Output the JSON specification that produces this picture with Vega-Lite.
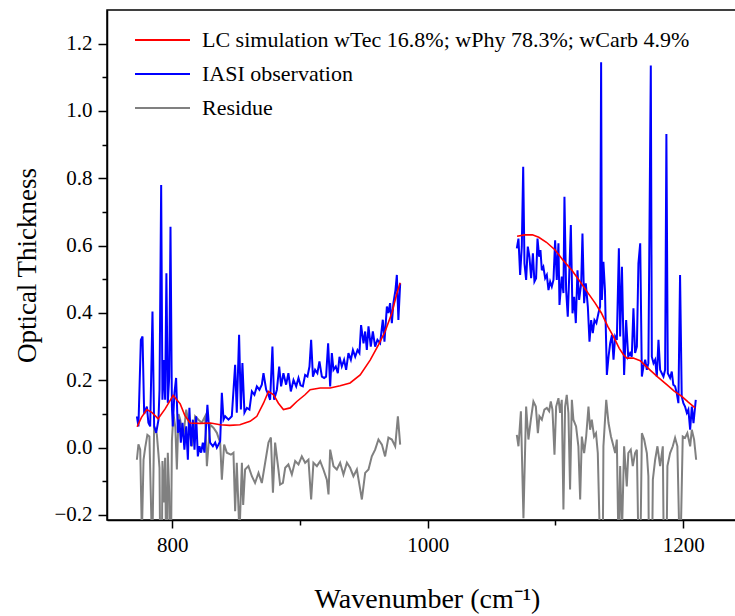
{
  "$schema": "https://vega.github.io/schema/vega-lite/v6.json",
  "width": 640,
  "height": 510,
  "autosize": {"type": "none"},
  "padding": {"left": 107, "top": 10, "right": 0, "bottom": 96},
  "background": "white",
  "config": {
    "font": "Liberation Serif",
    "style": {
      "guide-label": {"font": "Liberation Serif", "fill": "black"},
      "guide-title": {"font": "Liberation Serif", "fill": "black"}
    },
    "view": {"stroke": "black", "strokeWidth": 1.5},
    "axis": {
      "domainColor": "black", "domainWidth": 1.5, "tickColor": "black", "tickWidth": 1.5,
      "labelColor": "black", "labelFont": "Liberation Serif", "labelFontSize": 21,
      "titleFont": "Liberation Serif", "titleFontSize": 27, "titleFontWeight": "normal",
      "titleColor": "black", "grid": false
    },
    "legend": {"labelFont": "Liberation Serif", "labelFontSize": 22, "labelColor": "black", "labelLimit": 0}
  },
  "datasets": {
    "obs": [
      {"p":"a","x":772.4,"y":0.093},{"p":"a","x":773.6,"y":0.063},{"p":"a","x":775.5,"y":0.32},{"p":"a","x":776.8,"y":0.33},{"p":"a","x":778.1,"y":0.10},{"p":"a","x":780.2,"y":0.122},{"p":"a","x":781.4,"y":0.074},{"p":"a","x":782.8,"y":0.063},{"p":"a","x":784.6,"y":0.404},{"p":"a","x":785.9,"y":0.063},{"p":"a","x":787.5,"y":0.044},{"p":"a","x":789.3,"y":0.083},{"p":"a","x":790.1,"y":0.17},{"p":"a","x":791.4,"y":0.78},{"p":"a","x":792.4,"y":0.142},{"p":"a","x":793.5,"y":0.26},{"p":"a","x":794.5,"y":0.142},{"p":"a","x":795.5,"y":0.518},{"p":"a","x":796.6,"y":0.133},{"p":"a","x":797.7,"y":0.21},{"p":"a","x":798.7,"y":0.656},{"p":"a","x":799.8,"y":0.122},{"p":"a","x":800.5,"y":0.063},{"p":"a","x":801.8,"y":0.163},{"p":"a","x":803.1,"y":0.207},{"p":"a","x":804.5,"y":0.044},{"p":"a","x":805.7,"y":0.083},{"p":"a","x":806.8,"y":0.015},{"p":"a","x":808.1,"y":0.074},{"p":"a","x":809.6,"y":-0.006},{"p":"a","x":811.0,"y":0.063},{"p":"a","x":812.3,"y":-0.036},{"p":"a","x":813.5,"y":0.118},{"p":"a","x":814.9,"y":0.004},{"p":"a","x":816.2,"y":0.083},{"p":"a","x":817.5,"y":-0.006},{"p":"a","x":818.8,"y":0.093},{"p":"a","x":820.1,"y":-0.026},{"p":"a","x":821.4,"y":0.004},{"p":"a","x":822.7,"y":-0.015},{"p":"a","x":824.0,"y":0.015},{"p":"a","x":825.3,"y":-0.015},{"p":"a","x":827.6,"y":0.127},{"p":"a","x":829.7,"y":0.015},{"p":"a","x":831.9,"y":0.004},{"p":"a","x":833.7,"y":0.015},{"p":"a","x":835.0,"y":0.0},{"p":"a","x":837.6,"y":0.019},{"p":"a","x":838.9,"y":0.163},{"p":"a","x":840.2,"y":0.083},{"p":"a","x":841.5,"y":0.093},{"p":"a","x":844.1,"y":0.083},{"p":"a","x":846.7,"y":0.093},{"p":"a","x":849.3,"y":0.246},{"p":"a","x":850.6,"y":0.104},{"p":"a","x":852.4,"y":0.335},{"p":"a","x":853.8,"y":0.113},{"p":"a","x":855.0,"y":0.251},{"p":"a","x":856.6,"y":0.104},{"p":"a","x":858.5,"y":0.118},{"p":"a","x":860.5,"y":0.113},{"p":"a","x":862.4,"y":0.167},{"p":"a","x":864.4,"y":0.157},{"p":"a","x":866.3,"y":0.182},{"p":"a","x":868.3,"y":0.172},{"p":"a","x":870.2,"y":0.187},{"p":"a","x":871.5,"y":0.221},{"p":"a","x":873.6,"y":0.172},{"p":"a","x":875.4,"y":0.157},{"p":"a","x":876.7,"y":0.142},{"p":"a","x":878.5,"y":0.30},{"p":"a","x":879.8,"y":0.142},{"p":"a","x":882.0,"y":0.172},{"p":"a","x":883.8,"y":0.241},{"p":"a","x":885.3,"y":0.182},{"p":"a","x":887.1,"y":0.221},{"p":"a","x":889.2,"y":0.187},{"p":"a","x":891.0,"y":0.221},{"p":"a","x":892.9,"y":0.167},{"p":"a","x":895.0,"y":0.201},{"p":"a","x":897.1,"y":0.182},{"p":"a","x":898.9,"y":0.207},{"p":"a","x":900.5,"y":0.185},{"p":"a","x":902.3,"y":0.182},{"p":"a","x":904.1,"y":0.216},{"p":"a","x":905.9,"y":0.211},{"p":"a","x":907.5,"y":0.241},{"p":"a","x":908.8,"y":0.32},{"p":"a","x":910.2,"y":0.211},{"p":"a","x":911.9,"y":0.231},{"p":"a","x":913.7,"y":0.221},{"p":"a","x":915.3,"y":0.256},{"p":"a","x":917.2,"y":0.211},{"p":"a","x":919.0,"y":0.207},{"p":"a","x":920.5,"y":0.211},{"p":"a","x":922.1,"y":0.31},{"p":"a","x":923.7,"y":0.182},{"p":"a","x":925.0,"y":0.281},{"p":"a","x":926.3,"y":0.231},{"p":"a","x":928.1,"y":0.241},{"p":"a","x":929.7,"y":0.221},{"p":"a","x":931.0,"y":0.27},{"p":"a","x":932.8,"y":0.241},{"p":"a","x":934.6,"y":0.261},{"p":"a","x":936.2,"y":0.231},{"p":"a","x":938.0,"y":0.281},{"p":"a","x":939.9,"y":0.261},{"p":"a","x":941.5,"y":0.29},{"p":"a","x":943.3,"y":0.27},{"p":"a","x":945.1,"y":0.29},{"p":"a","x":946.6,"y":0.281},{"p":"a","x":947.9,"y":0.364},{"p":"a","x":949.8,"y":0.31},{"p":"a","x":951.1,"y":0.345},{"p":"a","x":952.4,"y":0.29},{"p":"a","x":953.7,"y":0.36},{"p":"a","x":955.5,"y":0.30},{"p":"a","x":957.1,"y":0.345},{"p":"a","x":958.9,"y":0.30},{"p":"a","x":960.7,"y":0.32},{"p":"a","x":962.8,"y":0.31},{"p":"a","x":964.9,"y":0.38},{"p":"a","x":966.2,"y":0.315},{"p":"a","x":968.1,"y":0.419},{"p":"a","x":969.3,"y":0.40},{"p":"a","x":970.6,"y":0.429},{"p":"a","x":972.0,"y":0.37},{"p":"a","x":973.2,"y":0.429},{"p":"a","x":974.8,"y":0.468},{"p":"a","x":975.9,"y":0.513},{"p":"a","x":977.1,"y":0.379},{"p":"a","x":978.5,"y":0.488},
      {"p":"b","x":1069.8,"y":0.592},{"p":"b","x":1071.1,"y":0.621},{"p":"b","x":1072.4,"y":0.513},{"p":"b","x":1073.7,"y":0.597},{"p":"b","x":1074.8,"y":0.834},{"p":"b","x":1075.8,"y":0.547},{"p":"b","x":1077.1,"y":0.498},{"p":"b","x":1078.4,"y":0.597},{"p":"b","x":1079.7,"y":0.567},{"p":"b","x":1081.0,"y":0.503},{"p":"b","x":1082.4,"y":0.577},{"p":"b","x":1083.6,"y":0.493},{"p":"b","x":1084.9,"y":0.503},{"p":"b","x":1086.0,"y":0.621},{"p":"b","x":1087.3,"y":0.567},{"p":"b","x":1088.3,"y":0.587},{"p":"b","x":1089.4,"y":0.527},{"p":"b","x":1090.6,"y":0.537},{"p":"b","x":1092.0,"y":0.503},{"p":"b","x":1093.3,"y":0.513},{"p":"b","x":1094.6,"y":0.468},{"p":"b","x":1095.9,"y":0.493},{"p":"b","x":1097.2,"y":0.478},{"p":"b","x":1098.5,"y":0.498},{"p":"b","x":1099.8,"y":0.616},{"p":"b","x":1101.1,"y":0.498},{"p":"b","x":1102.4,"y":0.607},{"p":"b","x":1103.2,"y":0.424},{"p":"b","x":1105.0,"y":0.508},{"p":"b","x":1106.3,"y":0.459},{"p":"b","x":1107.1,"y":0.745},{"p":"b","x":1108.4,"y":0.468},{"p":"b","x":1109.7,"y":0.389},{"p":"b","x":1110.8,"y":0.508},{"p":"b","x":1112.1,"y":0.661},{"p":"b","x":1113.4,"y":0.399},{"p":"b","x":1114.7,"y":0.448},{"p":"b","x":1116.0,"y":0.37},{"p":"b","x":1117.3,"y":0.527},{"p":"b","x":1118.6,"y":0.439},{"p":"b","x":1120.2,"y":0.488},{"p":"b","x":1121.2,"y":0.636},{"p":"b","x":1122.5,"y":0.429},{"p":"b","x":1123.8,"y":0.488},{"p":"b","x":1125.4,"y":0.419},{"p":"b","x":1126.7,"y":0.315},{"p":"b","x":1128.0,"y":0.379},{"p":"b","x":1129.3,"y":0.34},{"p":"b","x":1130.6,"y":0.379},{"p":"b","x":1132.1,"y":0.37},{"p":"b","x":1133.7,"y":0.399},{"p":"b","x":1135.0,"y":0.419},{"p":"b","x":1135.8,"y":1.145},{"p":"b","x":1136.4,"y":0.439},{"p":"b","x":1137.6,"y":0.552},{"p":"b","x":1138.8,"y":0.468},{"p":"b","x":1140.3,"y":0.216},{"p":"b","x":1141.6,"y":0.27},{"p":"b","x":1142.9,"y":0.31},{"p":"b","x":1144.3,"y":0.335},{"p":"b","x":1145.5,"y":0.261},{"p":"b","x":1146.8,"y":0.33},{"p":"b","x":1148.1,"y":0.32},{"p":"b","x":1149.7,"y":0.592},{"p":"b","x":1150.7,"y":0.33},{"p":"b","x":1152.1,"y":0.537},{"p":"b","x":1153.8,"y":0.216},{"p":"b","x":1155.4,"y":0.379},{"p":"b","x":1157.0,"y":0.27},{"p":"b","x":1158.5,"y":0.281},{"p":"b","x":1159.8,"y":0.27},{"p":"b","x":1161.1,"y":0.414},{"p":"b","x":1162.4,"y":0.281},{"p":"b","x":1163.8,"y":0.30},{"p":"b","x":1165.0,"y":0.547},{"p":"b","x":1166.4,"y":0.607},{"p":"b","x":1167.7,"y":0.211},{"p":"b","x":1168.9,"y":0.24},{"p":"b","x":1170.3,"y":0.261},{"p":"b","x":1171.6,"y":0.231},{"p":"b","x":1172.8,"y":0.251},{"p":"b","x":1174.7,"y":1.135},{"p":"b","x":1175.5,"y":0.27},{"p":"b","x":1176.8,"y":0.251},{"p":"b","x":1178.1,"y":0.261},{"p":"b","x":1179.4,"y":0.211},{"p":"b","x":1180.7,"y":0.32},{"p":"b","x":1182.0,"y":0.231},{"p":"b","x":1183.3,"y":0.221},{"p":"b","x":1184.6,"y":0.211},{"p":"b","x":1185.9,"y":0.231},{"p":"b","x":1186.9,"y":0.932},{"p":"b","x":1188.0,"y":0.221},{"p":"b","x":1189.8,"y":0.207},{"p":"b","x":1191.1,"y":0.226},{"p":"b","x":1192.3,"y":0.187},{"p":"b","x":1193.7,"y":0.182},{"p":"b","x":1195.0,"y":0.162},{"p":"b","x":1196.3,"y":0.132},{"p":"b","x":1197.6,"y":0.513},{"p":"b","x":1198.9,"y":0.152},{"p":"b","x":1200.2,"y":0.132},{"p":"b","x":1201.5,"y":0.122},{"p":"b","x":1202.9,"y":0.103},{"p":"b","x":1204.1,"y":0.113},{"p":"b","x":1205.5,"y":0.053},{"p":"b","x":1206.8,"y":0.122},{"p":"b","x":1208.1,"y":0.073},{"p":"b","x":1209.9,"y":0.142}
    ],
    "sim": [
      {"p":"a","x":772.6,"y":0.062},{"p":"a","x":776.0,"y":0.09},{"p":"a","x":780.2,"y":0.113},{"p":"a","x":784.0,"y":0.105},{"p":"a","x":789.0,"y":0.086},{"p":"a","x":794.5,"y":0.115},{"p":"a","x":800.8,"y":0.155},{"p":"a","x":806.3,"y":0.13},{"p":"a","x":810.0,"y":0.095},{"p":"a","x":814.1,"y":0.073},{"p":"a","x":822.0,"y":0.072},{"p":"a","x":830.0,"y":0.073},{"p":"a","x":837.6,"y":0.068},{"p":"a","x":845.0,"y":0.066},{"p":"a","x":853.0,"y":0.068},{"p":"a","x":861.0,"y":0.078},{"p":"a","x":866.3,"y":0.093},{"p":"a","x":871.5,"y":0.132},{"p":"a","x":875.4,"y":0.167},{"p":"a","x":879.4,"y":0.157},{"p":"a","x":883.2,"y":0.132},{"p":"a","x":887.1,"y":0.113},{"p":"a","x":892.4,"y":0.118},{"p":"a","x":897.6,"y":0.137},{"p":"a","x":904.0,"y":0.157},{"p":"a","x":908.0,"y":0.172},{"p":"a","x":915.9,"y":0.177},{"p":"a","x":923.7,"y":0.177},{"p":"a","x":931.5,"y":0.184},{"p":"a","x":939.3,"y":0.192},{"p":"a","x":947.2,"y":0.216},{"p":"a","x":955.0,"y":0.26},{"p":"a","x":961.5,"y":0.305},{"p":"a","x":966.7,"y":0.345},{"p":"a","x":972.0,"y":0.40},{"p":"a","x":975.9,"y":0.458},{"p":"a","x":978.5,"y":0.49},
      {"p":"b","x":1070.0,"y":0.628},{"p":"b","x":1076.0,"y":0.632},{"p":"b","x":1082.0,"y":0.632},{"p":"b","x":1087.0,"y":0.625},{"p":"b","x":1093.0,"y":0.61},{"p":"b","x":1099.8,"y":0.587},{"p":"b","x":1106.0,"y":0.557},{"p":"b","x":1112.9,"y":0.527},{"p":"b","x":1119.0,"y":0.495},{"p":"b","x":1125.6,"y":0.459},{"p":"b","x":1131.0,"y":0.43},{"p":"b","x":1136.0,"y":0.40},{"p":"b","x":1141.0,"y":0.36},{"p":"b","x":1145.5,"y":0.33},{"p":"b","x":1150.0,"y":0.295},{"p":"b","x":1153.3,"y":0.276},{"p":"b","x":1156.0,"y":0.266},{"p":"b","x":1161.0,"y":0.266},{"p":"b","x":1166.4,"y":0.258},{"p":"b","x":1170.0,"y":0.245},{"p":"b","x":1174.2,"y":0.23},{"p":"b","x":1180.0,"y":0.21},{"p":"b","x":1187.2,"y":0.187},{"p":"b","x":1193.0,"y":0.168},{"p":"b","x":1199.0,"y":0.152},{"p":"b","x":1204.0,"y":0.135},{"p":"b","x":1209.4,"y":0.118}
    ],
    "res": [
      {"p":"a","x":772.4,"y":-0.036},{"p":"a","x":773.6,"y":0.01},{"p":"a","x":775.0,"y":-0.006},{"p":"a","x":776.3,"y":-0.26},{"p":"a","x":777.6,"y":-0.036},{"p":"a","x":778.9,"y":0.0},{"p":"a","x":780.6,"y":0.038},{"p":"a","x":782.2,"y":0.033},{"p":"a","x":784.4,"y":-0.32},{"p":"a","x":785.9,"y":0.063},{"p":"a","x":788.0,"y":0.04},{"p":"a","x":789.3,"y":-0.02},{"p":"a","x":790.1,"y":-0.06},{"p":"a","x":791.4,"y":-0.67},{"p":"a","x":792.4,"y":-0.04},{"p":"a","x":793.3,"y":-0.163},{"p":"a","x":794.5,"y":-0.03},{"p":"a","x":795.5,"y":-0.4},{"p":"a","x":796.6,"y":-0.015},{"p":"a","x":797.7,"y":-0.134},{"p":"a","x":798.7,"y":-0.5},{"p":"a","x":799.8,"y":0.02},{"p":"a","x":801.0,"y":0.1},{"p":"a","x":802.5,"y":0.06},{"p":"a","x":803.7,"y":-0.065},{"p":"a","x":805.0,"y":0.1},{"p":"a","x":806.3,"y":0.083},{"p":"a","x":808.8,"y":0.033},{"p":"a","x":811.0,"y":0.113},{"p":"a","x":812.8,"y":0.074},{"p":"a","x":815.4,"y":0.004},{"p":"a","x":818.0,"y":0.093},{"p":"a","x":820.6,"y":0.083},{"p":"a","x":823.2,"y":0.074},{"p":"a","x":825.8,"y":0.093},{"p":"a","x":827.2,"y":-0.055},{"p":"a","x":829.7,"y":0.068},{"p":"a","x":832.3,"y":0.059},{"p":"a","x":835.0,"y":0.044},{"p":"a","x":837.6,"y":0.015},{"p":"a","x":838.9,"y":-0.095},{"p":"a","x":840.7,"y":0.009},{"p":"a","x":842.8,"y":-0.015},{"p":"a","x":846.0,"y":-0.021},{"p":"a","x":848.0,"y":-0.015},{"p":"a","x":849.3,"y":-0.189},{"p":"a","x":850.6,"y":-0.045},{"p":"a","x":852.7,"y":-0.26},{"p":"a","x":854.6,"y":-0.045},{"p":"a","x":855.6,"y":-0.17},{"p":"a","x":857.1,"y":-0.065},{"p":"a","x":859.7,"y":-0.055},{"p":"a","x":862.4,"y":-0.085},{"p":"a","x":864.9,"y":-0.105},{"p":"a","x":867.6,"y":-0.075},{"p":"a","x":870.2,"y":-0.105},{"p":"a","x":872.8,"y":-0.045},{"p":"a","x":875.4,"y":0.015},{"p":"a","x":877.3,"y":0.03},{"p":"a","x":878.9,"y":-0.134},{"p":"a","x":880.6,"y":0.015},{"p":"a","x":883.2,"y":-0.065},{"p":"a","x":884.5,"y":-0.11},{"p":"a","x":886.7,"y":-0.105},{"p":"a","x":888.5,"y":-0.06},{"p":"a","x":891.0,"y":-0.05},{"p":"a","x":893.7,"y":-0.08},{"p":"a","x":896.3,"y":-0.04},{"p":"a","x":898.9,"y":-0.05},{"p":"a","x":901.5,"y":-0.026},{"p":"a","x":904.1,"y":-0.045},{"p":"a","x":906.7,"y":-0.036},{"p":"a","x":908.8,"y":-0.154},{"p":"a","x":910.6,"y":-0.045},{"p":"a","x":913.3,"y":-0.055},{"p":"a","x":915.9,"y":-0.04},{"p":"a","x":918.4,"y":-0.065},{"p":"a","x":921.1,"y":-0.095},{"p":"a","x":922.4,"y":-0.139},{"p":"a","x":923.7,"y":-0.006},{"p":"a","x":926.3,"y":-0.055},{"p":"a","x":928.9,"y":-0.065},{"p":"a","x":931.5,"y":-0.045},{"p":"a","x":934.1,"y":-0.08},{"p":"a","x":936.8,"y":-0.045},{"p":"a","x":939.3,"y":-0.06},{"p":"a","x":941.9,"y":-0.085},{"p":"a","x":944.6,"y":-0.065},{"p":"a","x":947.2,"y":-0.124},{"p":"a","x":948.5,"y":-0.154},{"p":"a","x":951.1,"y":-0.075},{"p":"a","x":953.7,"y":-0.065},{"p":"a","x":956.3,"y":-0.026},{"p":"a","x":958.9,"y":-0.006},{"p":"a","x":961.5,"y":0.024},{"p":"a","x":964.2,"y":0.009},{"p":"a","x":966.7,"y":-0.026},{"p":"a","x":969.3,"y":0.03},{"p":"a","x":972.0,"y":0.024},{"p":"a","x":974.6,"y":0.004},{"p":"a","x":976.7,"y":0.093},{"p":"a","x":978.5,"y":0.009},
      {"p":"b","x":1069.8,"y":0.038},{"p":"b","x":1071.1,"y":0.004},{"p":"b","x":1073.0,"y":0.108},{"p":"b","x":1075.0,"y":-0.21},{"p":"b","x":1077.1,"y":0.122},{"p":"b","x":1078.9,"y":0.024},{"p":"b","x":1080.8,"y":0.083},{"p":"b","x":1082.8,"y":0.137},{"p":"b","x":1084.7,"y":0.122},{"p":"b","x":1086.3,"y":0.043},{"p":"b","x":1087.5,"y":0.093},{"p":"b","x":1089.4,"y":0.083},{"p":"b","x":1091.4,"y":0.113},{"p":"b","x":1093.3,"y":0.118},{"p":"b","x":1095.1,"y":0.108},{"p":"b","x":1096.4,"y":0.137},{"p":"b","x":1097.7,"y":0.113},{"p":"b","x":1099.3,"y":-0.021},{"p":"b","x":1100.6,"y":0.122},{"p":"b","x":1102.4,"y":0.147},{"p":"b","x":1103.7,"y":0.103},{"p":"b","x":1105.0,"y":0.142},{"p":"b","x":1106.3,"y":-0.184},{"p":"b","x":1107.6,"y":0.122},{"p":"b","x":1108.9,"y":0.157},{"p":"b","x":1110.2,"y":0.103},{"p":"b","x":1111.5,"y":-0.124},{"p":"b","x":1112.9,"y":0.142},{"p":"b","x":1114.1,"y":0.083},{"p":"b","x":1116.2,"y":0.063},{"p":"b","x":1118.0,"y":0.004},{"p":"b","x":1119.4,"y":-0.154},{"p":"b","x":1120.7,"y":0.033},{"p":"b","x":1122.5,"y":-0.016},{"p":"b","x":1124.1,"y":0.033},{"p":"b","x":1125.9,"y":0.122},{"p":"b","x":1127.2,"y":0.053},{"p":"b","x":1128.5,"y":0.083},{"p":"b","x":1130.3,"y":0.033},{"p":"b","x":1131.8,"y":0.043},{"p":"b","x":1133.2,"y":-0.016},{"p":"b","x":1135.0,"y":-0.3},{"p":"b","x":1136.4,"y":-0.75},{"p":"b","x":1137.6,"y":0.004},{"p":"b","x":1139.8,"y":0.142},{"p":"b","x":1141.6,"y":0.073},{"p":"b","x":1143.5,"y":0.033},{"p":"b","x":1145.5,"y":0.004},{"p":"b","x":1146.8,"y":-0.016},{"p":"b","x":1148.1,"y":0.024},{"p":"b","x":1149.4,"y":-0.3},{"p":"b","x":1150.7,"y":-0.055},{"p":"b","x":1152.1,"y":-0.26},{"p":"b","x":1153.8,"y":0.004},{"p":"b","x":1155.9,"y":-0.115},{"p":"b","x":1157.1,"y":-0.016},{"p":"b","x":1159.0,"y":-0.006},{"p":"b","x":1160.6,"y":-0.055},{"p":"b","x":1162.4,"y":-0.016},{"p":"b","x":1163.8,"y":-0.006},{"p":"b","x":1165.0,"y":-0.29},{"p":"b","x":1166.4,"y":-0.35},{"p":"b","x":1167.7,"y":0.043},{"p":"b","x":1169.5,"y":0.024},{"p":"b","x":1171.6,"y":-0.016},{"p":"b","x":1172.8,"y":-0.085},{"p":"b","x":1174.2,"y":-0.9},{"p":"b","x":1176.3,"y":-0.095},{"p":"b","x":1178.1,"y":-0.036},{"p":"b","x":1179.9,"y":0.004},{"p":"b","x":1182.0,"y":-0.055},{"p":"b","x":1184.1,"y":0.004},{"p":"b","x":1185.9,"y":-0.75},{"p":"b","x":1187.7,"y":-0.055},{"p":"b","x":1189.8,"y":-0.016},{"p":"b","x":1191.9,"y":0.004},{"p":"b","x":1193.7,"y":0.029},{"p":"b","x":1195.5,"y":0.004},{"p":"b","x":1197.6,"y":-0.37},{"p":"b","x":1199.7,"y":0.033},{"p":"b","x":1201.5,"y":0.029},{"p":"b","x":1203.3,"y":0.043},{"p":"b","x":1205.5,"y":0.004},{"p":"b","x":1206.8,"y":0.053},{"p":"b","x":1208.6,"y":0.024},{"p":"b","x":1210.2,"y":-0.036}
    ]
  },
  "encoding": {
    "x": {
      "field": "x", "type": "quantitative",
      "scale": {"domain": [749, 1250], "nice": false, "zero": false},
      "axis": {
        "title": "Wavenumber (cm⁻¹)",
        "values": [800, 900, 1000, 1100, 1200],
        "format": "d",
        "labelExpr": "datum.value % 200 == 0 ? datum.label : ''",
        "tickSize": {"condition": {"test": "datum.value % 200 == 0", "value": 8}, "value": 5},
        "labelPadding": 6,
        "titlePadding": 30,
        "titleFontSize": 28,
        "labelFlush": false
      }
    },
    "y": {
      "field": "y", "type": "quantitative",
      "scale": {"domain": [-0.215, 1.3], "nice": false, "zero": false},
      "axis": {
        "title": "Optical Thickness",
        "values": [-0.2, -0.1, 0, 0.1, 0.2, 0.3, 0.4, 0.5, 0.6, 0.7, 0.8, 0.9, 1.0, 1.1, 1.2],
        "format": ".1f",
        "labelExpr": "abs(round(datum.value * 10)) % 2 == 0 ? datum.label : ''",
        "tickSize": {"condition": {"test": "abs(round(datum.value * 10)) % 2 == 0", "value": 9}, "value": 5},
        "labelPadding": 6,
        "titlePadding": 12,
        "labelFlush": false
      }
    },
    "detail": {"field": "p", "type": "nominal"}
  },
  "layer": [
    {
      "data": {"name": "res"},
      "mark": {"type": "line", "clip": true, "strokeWidth": 2},
      "encoding": {"color": {"datum": "Residue", "type": "nominal"}}
    },
    {
      "data": {"name": "obs"},
      "mark": {"type": "line", "clip": true, "strokeWidth": 2},
      "encoding": {"color": {"datum": "IASI observation", "type": "nominal"}}
    },
    {
      "data": {"name": "sim"},
      "mark": {"type": "line", "clip": true, "strokeWidth": 1.6},
      "encoding": {
        "color": {
          "datum": "LC simulation wTec 16.8%; wPhy 78.3%; wCarb 4.9%", "type": "nominal",
          "scale": {
            "domain": ["LC simulation wTec 16.8%; wPhy 78.3%; wCarb 4.9%", "IASI observation", "Residue"],
            "range": ["#FF0000", "#0000FF", "#808080"]
          },
          "legend": {
            "title": null, "orient": "none", "legendX": 27, "legendY": 19,
            "symbolType": "M-1,0H4.5", "symbolSize": 400, "symbolStrokeWidth": 2,
            "labelOffset": 46, "labelFont": "Liberation Serif", "labelFontSize": 22,
            "labelLimit": 0, "rowPadding": 12
          }
        }
      }
    }
  ]
}
